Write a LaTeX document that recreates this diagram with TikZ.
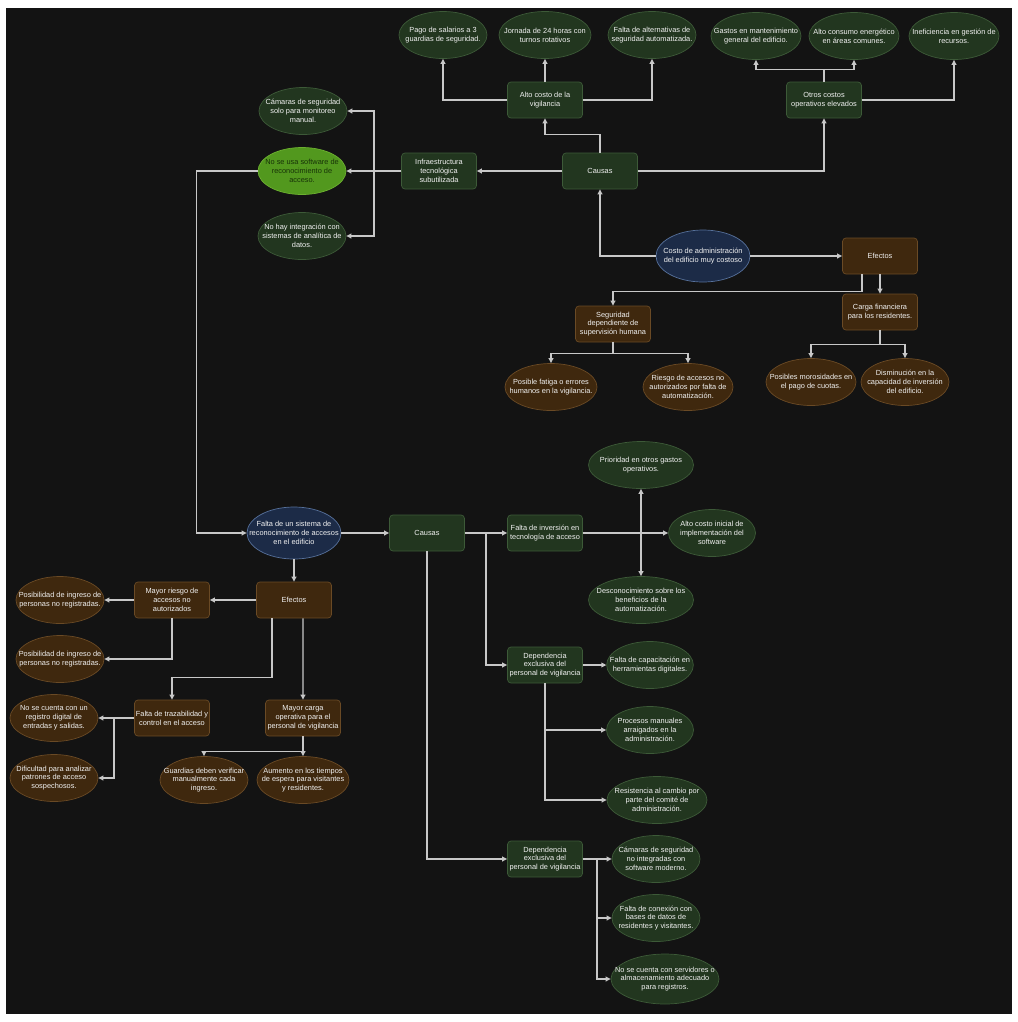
\documentclass[tikz,border=0pt]{standalone}
\usepackage{fontspec}
\setmainfont{Liberation Sans}
\usetikzlibrary{shapes.geometric,arrows.meta}
\definecolor{pagebg}{HTML}{131313}
\definecolor{causefill}{HTML}{22361F}
\definecolor{causeline}{HTML}{3D5A38}
\definecolor{effectfill}{HTML}{3F280E}
\definecolor{effectline}{HTML}{6A4A25}
\definecolor{probfill}{HTML}{1C2B47}
\definecolor{probline}{HTML}{56709A}
\definecolor{keyfill}{HTML}{52981E}
\definecolor{keyline}{HTML}{6CB030}
\definecolor{keytext}{HTML}{173208}
\definecolor{wire}{HTML}{C8C8C8}
\definecolor{inktext}{HTML}{F2F2F2}

\begin{document}
\begin{tikzpicture}[x=0.03cm, y=-0.03cm,
    every node/.style={font=\fontsize{6.3}{7.6}\selectfont, text=inktext, align=center, line width=0.6pt},
    cbox/.style={rectangle, rounded corners=3pt, draw=causeline, fill=causefill, minimum width=2.25cm, minimum height=1.08cm, inner sep=1pt},
    cell/.style={ellipse, draw=causeline, fill=causefill, minimum width=2.64cm, minimum height=1.41cm, inner xsep=-30pt, inner ysep=0pt},
    keycell/.style={cell, draw=keyline, fill=keyfill, text=keytext},
    ebox/.style={cbox, draw=effectline, fill=effectfill},
    eell/.style={cell, draw=effectline, fill=effectfill},
    prob/.style={cell, draw=probline, fill=probfill, minimum width=2.82cm, minimum height=1.56cm},
    arrow/.style={-{Triangle[length=4.2pt,width=4pt]}, line width=1.2pt, draw=wire}
]
\useasboundingbox (0,0) rectangle (1018,1022);
\fill[white] (0,0) rectangle (1018,1022);
\fill[pagebg] (6,8) rectangle (1012,1014);

\node[cell] (pago) at (443,35) {Pago de salarios a 3\\guardias de seguridad.};
\node[cell, minimum width=2.76cm] (jornada) at (545,35) {Jornada de 24 horas con\\turnos rotativos};
\node[cell] (alter) at (652,35) {Falta de alternativas de\\seguridad automatizada.};
\node[cell, minimum width=2.7cm] (gastos) at (756,36) {Gastos en mantenimiento\\general del edificio.};
\node[cell, minimum width=2.7cm] (consumo) at (854,36) {Alto consumo energético\\en áreas comunes.};
\node[cell, minimum width=2.7cm] (inef) at (954,36) {Ineficiencia en gestión de\\recursos.};
\node[cbox] (vigil) at (545,100) {Alto costo de la\\vigilancia};
\node[cbox] (otros) at (824,100) {Otros costos\\operativos elevados};
\node[cbox] (causasA) at (600,171) {Causas};
\node[cbox] (infra) at (439,171) {Infraestructura\\tecnológica\\subutilizada};
\node[cell] (camaras) at (303,111) {Cámaras de seguridad\\solo para monitoreo\\manual.};
\node[keycell] (nosoft) at (302,171) {No se usa software de\\reconocimiento de\\acceso.};
\node[cell] (noint) at (302,236) {No hay integración con\\sistemas de analítica de\\datos.};
\node[prob] (costo) at (703,256) {Costo de administración\\del edificio muy costoso};
\node[ebox] (efectosA) at (880,256) {Efectos};
\node[ebox] (carga) at (880,312) {Carga financiera\\para los residentes.};
\node[ebox] (segur) at (613,324) {Seguridad\\dependiente de\\supervisión humana};
\node[eell, minimum width=2.76cm] (fatiga) at (551,387) {Posible fatiga o errores\\humanos en la vigilancia.};
\node[eell, minimum width=2.7cm] (riesgo) at (688,387) {Riesgo de accesos no\\autorizados por falta de\\automatización.};
\node[eell, minimum width=2.7cm] (moros) at (811,382) {Posibles morosidades en\\el pago de cuotas.};
\node[eell] (dismin) at (905,382) {Disminución en la\\capacidad de inversión\\del edificio.};

\node[prob] (falta) at (294,533) {Falta de un sistema de\\reconocimiento de accesos\\en el edificio};
\node[cbox] (causasB) at (427,533) {Causas};
\node[ebox] (efectosB) at (294,600) {Efectos};
\node[cbox] (invers) at (545,533) {Falta de inversión en\\tecnología de acceso};
\node[cell, minimum width=3.15cm] (prior) at (641,465) {Prioridad en otros gastos\\operativos.};
\node[cell, minimum width=2.61cm] (inicial) at (712,533) {Alto costo inicial de\\implementación del\\software};
\node[cell, minimum width=3.15cm] (descon) at (641,600) {Desconocimiento sobre los\\beneficios de la\\automatización.};
\node[cbox] (depA) at (545,665) {Dependencia\\exclusiva del\\personal de vigilancia};
\node[cell, minimum width=2.6cm] (capac) at (650,665) {Falta de capacitación en\\herramientas digitales.};
\node[cell, minimum width=2.61cm] (proces) at (650,730) {Procesos manuales\\arraigados en la\\administración.};
\node[cell, minimum width=3cm] (resist) at (657,800) {Resistencia al cambio por\\parte del comité de\\administración.};
\node[cbox] (depB) at (545,859) {Dependencia\\exclusiva del\\personal de vigilancia};
\node[cell] (camnoint) at (656,859) {Cámaras de seguridad\\no integradas con\\software moderno.};
\node[cell] (conex) at (656,918) {Falta de conexión con\\bases de datos de\\residentes y visitantes.};
\node[cell, minimum width=3.24cm, minimum height=1.5cm] (servid) at (665,979) {No se cuenta con servidores o\\almacenamiento adecuado\\para registros.};
\node[ebox] (mayorR) at (172,600) {Mayor riesgo de\\accesos no\\autorizados};
\node[eell] (posibA) at (60,600) {Posibilidad de ingreso de\\personas no registradas.};
\node[eell] (posibB) at (60,659) {Posibilidad de ingreso de\\personas no registradas.};
\node[ebox] (traza) at (172,718) {Falta de trazabilidad y\\control en el acceso};
\node[ebox] (mayorC) at (303,718) {Mayor carga\\operativa para el\\personal de vigilancia};
\node[eell] (noreg) at (54,718) {No se cuenta con un\\registro digital de\\entradas y salidas.};
\node[eell] (dific) at (54,778) {Dificultad para analizar\\patrones de acceso\\sospechosos.};
\node[eell] (guard) at (204,780) {Guardias deben verificar\\manualmente cada\\ingreso.};
\node[eell, minimum width=2.76cm] (aument) at (303,780) {Aumento en los tiempos\\de espera para visitantes\\y residentes.};

\draw[arrow] (causasA.north) -- ++(0,-18) -| (vigil.south);
\draw[arrow] (vigil.west) -| (pago.south);
\draw[arrow] (vigil.north) -- (jornada.south);
\draw[arrow] (vigil.east) -| (alter.south);
\draw[arrow] (causasA.east) -| (otros.south);
\draw[arrow] (otros.north) -- ++(0,-12) -| (gastos.south);
\draw[arrow] (otros.north) -- ++(0,-12) -| (consumo.south);
\draw[arrow] (otros.east) -| (inef.south);
\draw[arrow] (causasA.west) -- (infra.east);
\draw[arrow] (infra.west) -- (nosoft.east);
\draw[arrow] (infra.west) -- ++(-27,0) |- (camaras.east);
\draw[arrow] (infra.west) -- ++(-27,0) |- (noint.east);
\draw[arrow] (nosoft.west) -- ++(-61,0) |- (falta.west);
\draw[arrow] (costo.west) -| (causasA.south);
\draw[arrow] (costo.east) -- (efectosA.west);
\draw[arrow] (efectosA.south) -- (carga.north);
\draw[arrow] ([xshift=-0.54cm]efectosA.south) -- ++(0,17) -| (segur.north);
\draw[arrow] (carga.south) -- ++(0,14) -| (moros.north);
\draw[arrow] (carga.south) -- ++(0,14) -| (dismin.north);
\draw[arrow] (segur.south) -- ++(0,11) -| (fatiga.north);
\draw[arrow] (segur.south) -- ++(0,11) -| (riesgo.north);

\draw[arrow] (falta.east) -- (causasB.west);
\draw[arrow] (falta.south) -- (efectosB.north);
\draw[arrow] (causasB.east) -- (invers.west);
\draw[arrow] (causasB.east) -- ++(21,0) |- (depA.west);
\draw[arrow] (causasB.south) |- (depB.west);
\draw[arrow] (invers.east) -- (inicial.west);
\draw[arrow] (invers.east) -| (prior.south);
\draw[arrow] (invers.east) -| (descon.north);
\draw[arrow] (depA.east) -- (capac.west);
\draw[arrow] (depA.south) |- (proces.west);
\draw[arrow] (depA.south) |- (resist.west);
\draw[arrow] (depB.east) -- (camnoint.west);
\draw[arrow] (depB.east) -- ++(14,0) |- (conex.west);
\draw[arrow] (depB.east) -- ++(14,0) |- (servid.west);
\draw[arrow] (efectosB.west) -- (mayorR.east);
\draw[arrow] (mayorR.west) -- (posibA.east);
\draw[arrow] (mayorR.south) |- (posibB.east);
\draw[arrow] ([xshift=-0.66cm]efectosB.south) -- ++(0,59) -| (traza.north);
\draw[arrow] ([xshift=0.27cm]efectosB.south) -- (mayorC.north);
\draw[arrow] (traza.west) -- (noreg.east);
\draw[arrow] (traza.west) -- ++(-20,0) |- (dific.east);
\draw[arrow] (mayorC.south) -- ++(0,15) -| (guard.north);
\draw[arrow] (mayorC.south) -- (aument.north);
\end{tikzpicture}
\end{document}
